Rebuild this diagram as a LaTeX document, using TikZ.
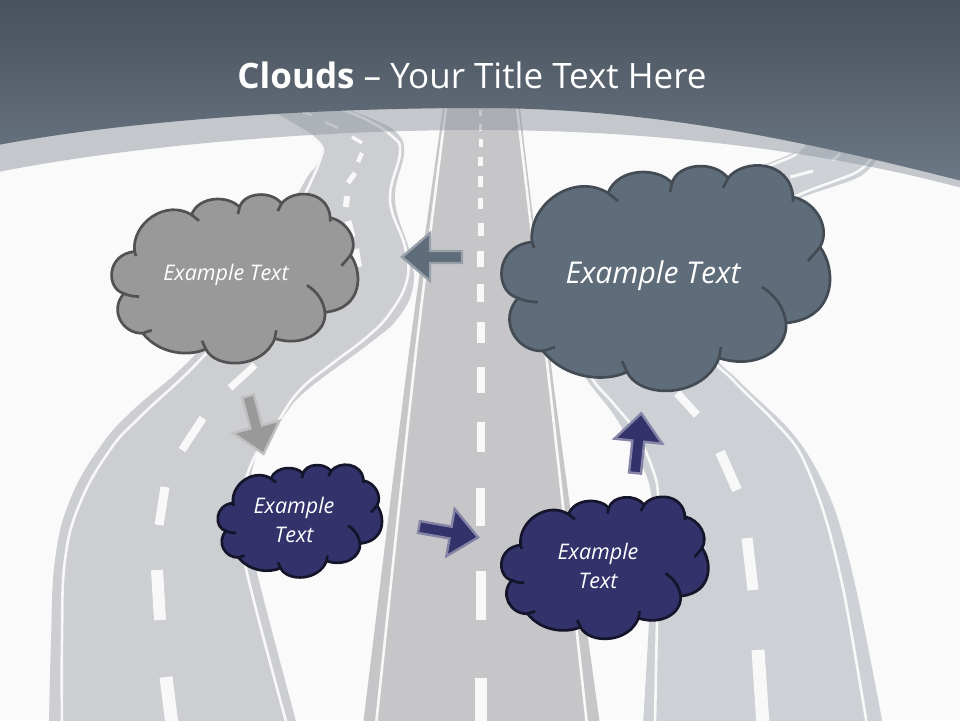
\documentclass[tikz,border=0pt]{standalone}
\usepackage{fontspec}
\setmainfont{Open Sans}

\definecolor{paper}{HTML}{FAFAFA}
\definecolor{roadgray}{HTML}{CCCED1}
\definecolor{midroad}{HTML}{C6C6C8}
\definecolor{sideroad}{HTML}{CDD0D5}
\definecolor{dashwhite}{HTML}{F8F8F8}
\definecolor{slate}{HTML}{5F6C7A}
\definecolor{navy}{HTML}{33326B}

\tikzset{
    whiteline/.style={draw=dashwhite, line width=2.6pt},
    roadmark/.style={draw=dashwhite},
    cloudtext/.style={text=white, font=\itshape\fontsize{21.5}{29}\selectfont, align=center},
    graycloud/.style={fill=black!40, draw=black!68, line width=2.7pt},
    slatecloud/.style={fill=slate, draw=slate!70!black, line width=2.7pt},
    navycloud/.style={fill=navy, draw=navy!40!black, line width=2.7pt},
    grayarrow/.style={fill=black!40, draw=black!25, line width=2.4pt},
    slatearrow/.style={fill=slate, draw=slate!65!white, line width=2.4pt},
    navyarrow/.style={fill=navy, draw=navy!60!white, line width=2.4pt},
    blockarrow/.pic={
        \path [pic actions] (0, -6) -- (32, -6) -- (32, -24) -- (60, 0)
            -- (32, 24) -- (32, 6) -- (0, 6) -- cycle;
    },
    cloudshape/.pic={
        \path [pic actions] (-134, -38)
            .. controls (-138, -76) and (-92, -108) .. (-58, -87)
            .. controls (-48, -113) and (-8, -113) .. (6, -97)
            .. controls (12, -117) and (48, -120) .. (62, -102)
            .. controls (78, -122) and (124, -120) .. (127, -83)
            .. controls (150, -78) and (165, -52) .. (154, -33)
            .. controls (170, -12) and (172, 38) .. (120, 43)
            .. controls (122, 70) and (90, 90) .. (53, 78)
            .. controls (38, 118) and (-25, 120) .. (-39, 92)
            .. controls (-60, 102) and (-100, 100) .. (-123, 71)
            .. controls (-150, 72) and (-168, 40) .. (-148, 18)
            .. controls (-172, 12) and (-172, -34) .. (-134, -38)
            -- cycle;
        \path [pic actions, fill=none] (-134, -38) -- (-132, -32)
            (-58, -87) -- (-48, -79)
            (6, -97) -- (4, -88)
            (62, -102) -- (57, -92)
            (127, -83) -- (127, -78)
            (154, -33) -- (142, -19)
            (120, 43) .. controls (118, 28) and (110, 16) .. (96, 7)
            (53, 78) -- (55, 67)
            (-39, 92) -- (-44, 81)
            (-123, 71) -- (-111, 67)
            (-148, 18) .. controls (-142, 21) and (-135, 22) .. (-128, 22);
    },
}

\begin{document}
\begin{tikzpicture}[x=1pt, y=-1pt]
    \useasboundingbox (0, 0) rectangle (960, 720);
    \fill [paper] (0, 0) rectangle (960, 720);

    \fill [roadgray] plot [smooth, tension=0.7] coordinates {(49, 725) (51, 640) (55, 560) (70, 500) (100, 447) (133, 410) (190, 360) (250, 290) (300, 190) (316, 166) (324, 150) (316, 138) (300, 127) (267, 108)}
        -- plot [smooth, tension=0.7] coordinates {(343, 108) (375, 120) (397, 133) (404, 153) (395, 200) (410, 253) (413, 287) (398, 318) (370, 343) (307, 390) (283, 417) (257, 453) (247, 520) (257, 573) (297, 725)} -- cycle;
    \draw [whiteline] plot [smooth, tension=0.7] coordinates {(62, 725) (62, 640) (65, 560) (80, 503) (110, 450) (140, 417) (200, 360) (258, 292) (307, 190) (320, 160) (321, 146) (303, 132) (273, 113) (262, 108)};
    \draw [whiteline] plot [smooth, tension=0.7] coordinates {(338, 108) (367, 120) (393, 137) (400, 153) (390, 200) (405, 247) (407, 280) (390, 313) (367, 337) (333, 363) (300, 390) (277, 423) (250, 467) (240, 520) (247, 573) (287, 725)};
    \foreach \xa/\ya/\xb/\yb/\w in {302/112/312/115/2, 325/122/338/128/2.5, 352/137/362/143/3.5, 362/153/358/162/4.5,
        355/173/348/183/5, 347/196/346/207/6, 348/221/352/237/7, 355/249/358/267/8, 255/365/230/388/7,
        203/418/182/450/8, 165/487/159/525/9, 157/570/160/620/12, 166/677/172/725/13}
        \draw [roadmark, line width=\w pt] (\xa, \ya) -- (\xb, \yb);

    \fill [midroad] plot [smooth] coordinates {(363, 725) (408, 360) (443, 108)}
        -- plot [smooth] coordinates {(520, 108) (553, 380) (600, 725)} -- cycle;
    \draw [whiteline] plot [smooth] coordinates {(376, 725) (415, 360) (446, 108)};
    \draw [whiteline] plot [smooth] coordinates {(517, 108) (549, 380) (587, 725)};
    \foreach \ya/\yb/\w in {110/116/3, 124/131/3.5, 139/147/4, 157/166/5, 176/187/5, 198/209/5.5, 223/236/6, 251/267/6.5,
        284/302/7, 322/343/8, 367/393/8, 422/452/8, 488/526/9, 571/620/10, 678/725/12}
        \draw [roadmark, line width=\w pt] (480.5, \ya) -- (480.5, \yb);

    \fill [sideroad] plot [smooth] coordinates {(643, 725) (648, 640) (652, 560) (651, 493) (638, 457) (614, 415) (587, 380) (565, 340) (580, 270) (640, 210) (720, 178) (763, 165) (800, 150) (805, 145) (798, 135)}
        -- plot [smooth] coordinates {(882, 150) (877, 160) (857, 178) (803, 197) (775, 215) (730, 270) (715, 350) (738, 380) (787, 427) (813, 463) (836, 513) (857, 593) (883, 725)} -- cycle;
    \draw [whiteline] plot [smooth] coordinates {(655, 725) (657, 623) (660, 550) (658, 493) (653, 470) (637, 433) (613, 403) (593, 380) (572, 340) (590, 270) (650, 215) (725, 182) (763, 168) (795, 155) (800, 146) (795, 138)};
    \draw [whiteline] plot [smooth] coordinates {(876, 150) (872, 158) (855, 173) (803, 193) (770, 212) (725, 270) (710, 350) (733, 380) (773, 420) (800, 453) (824, 513) (844, 593) (867, 725)};
    \foreach \xa/\ya/\xb/\yb/\w in {833/160/840/154/3, 790/177/813/171/3, 677/393/697/415/8,
        720/452/737/490/10, 747/538/753/590/11, 758/650/763/725/13}
        \draw [roadmark, line width=\w pt] (\xa, \ya) -- (\xb, \yb);

    \fill [slate!70!white, opacity=0.5] (-2, 172) .. controls (120, 148) and (300, 130) .. (480, 130)
        .. controls (650, 130) and (820, 150) .. (962, 188) -- (962, 100) -- (-2, 100) -- cycle;
    \shade [top color=slate!75!black, bottom color=slate!92!white] (-2, -2) -- (962, -2) -- (962, 181)
        .. controls (800, 140) and (650, 108) .. (480, 108)
        .. controls (300, 108) and (120, 122) .. (-2, 145) -- cycle;

    \pic [slatearrow, rotate=180] at (462, 257) {blockarrow};
    \pic [grayarrow, rotate=-75] at (248, 396) {blockarrow};
    \pic [navyarrow, rotate=-10] at (419, 527) {blockarrow};
    \pic [navyarrow, rotate=84] at (635, 473) {blockarrow};

    \pic [graycloud, scale=0.75] at (235, 280) {cloudshape};
    \pic [slatecloud] at (666, 280) {cloudshape};
    \pic [navycloud, scale=0.5] at (300, 522) {cloudshape};
    \pic [navycloud, scale=0.63] at (605, 569) {cloudshape};

    \path (472, 75) node [text=white, font=\fontsize{35}{40}\selectfont] (title) {\textbf{Clouds} -- Your Title Text Here};
    \path (226, 275) node [cloudtext] (graytext) {Example Text};
    \path (653, 276) node [cloudtext, font=\itshape\fontsize{30}{36}\selectfont] (slatetext) {Example Text};
    \path (294, 520) node [cloudtext] (navytext) {Example\\Text};
    \path (598, 566) node [cloudtext] (bluetext) {Example\\Text};
\end{tikzpicture}
\end{document}
